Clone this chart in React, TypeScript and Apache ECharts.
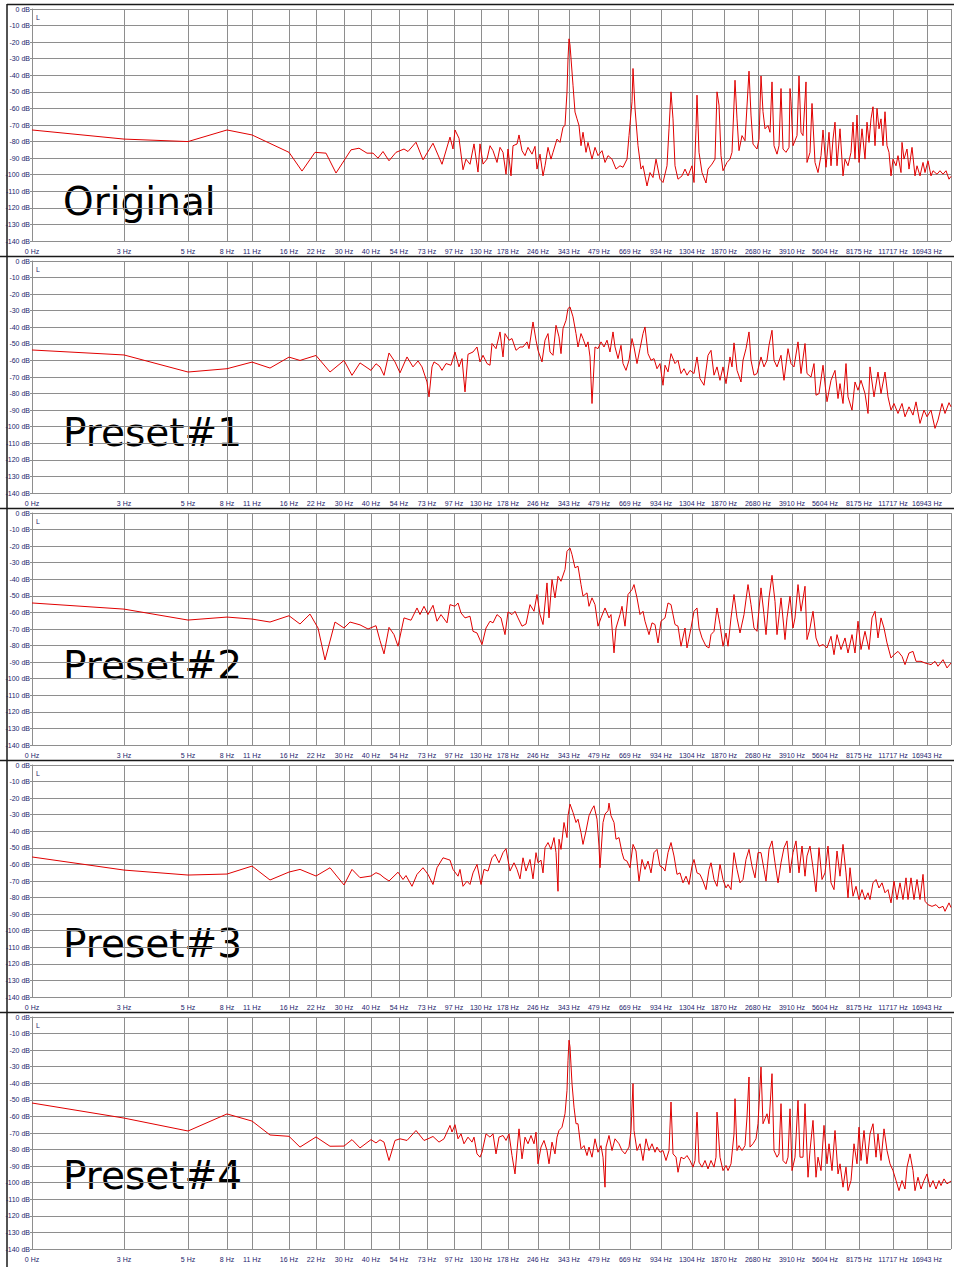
import React, { useEffect, useRef } from 'react';
import * as echarts from 'echarts';

// ---- axis definition (frequency bins along the display axis) ----
const binCount = 920;
const tickBins = [0, 92, 156, 195, 220, 257, 284, 312, 339, 367, 395, 422, 449, 476, 506, 537, 567, 598, 629, 660, 692, 726, 760, 793, 827, 861, 895, 919];
const tickLabels = ['0 Hz', '3 Hz', '5 Hz', '8 Hz', '11 Hz', '16 Hz', '22 Hz', '30 Hz', '40 Hz', '54 Hz', '73 Hz', '97 Hz', '130 Hz', '178 Hz', '246 Hz', '343 Hz', '479 Hz', '669 Hz', '934 Hz', '1304 Hz', '1870 Hz', '2680 Hz', '3910 Hz', '5604 Hz', '8175 Hz', '11717 Hz', '16943 Hz', ''];
const panelNames = ['Original', 'Preset#1', 'Preset#2', 'Preset#3', 'Preset#4'];

// ---- spectra: [bin, dB] ----
const original = [[0,-73],[92,-78.5],[156,-80],[195,-73],[220,-76],[257,-86.5],[270,-97.8],[283,-86.5],[294,-87],[304,-99],[319,-85],[327,-84],[335,-87],[341,-87],[346,-90],[351,-86],[357,-91.6],[364,-86.5],[372,-84.5],[376,-86],[384,-80.4],[391,-91],[401,-81],[410,-93.7],[418,-77.3],[421,-84.5],[423,-73],[427,-78],[431,-97],[434,-90.6],[438,-93.7],[442,-81.4],[446,-98.4],[448,-81.4],[451,-93.6],[455,-90.6],[458,-82.5],[461,-85.5],[465,-92.6],[468,-83.5],[471,-86.5],[474,-99.7],[476,-84.5],[479,-100.7],[481,-82.5],[485,-81.5],[487,-76],[490,-85.5],[493,-88.5],[496,-83.5],[500,-87.6],[503,-82.9],[505,-96.6],[508,-87.6],[511,-100.7],[513,-94.6],[516,-83.5],[519,-90.6],[521,-86.5],[525,-78.5],[528,-80.5],[531,-71.3],[533,-70.3],[535,-50],[536,-30],[537,-18],[538,-21.7],[539,-29.8],[541,-46],[543,-62.2],[545,-66.3],[547,-70.3],[549,-82.5],[551,-74.4],[554,-86.5],[556,-80.5],[560,-90.6],[563,-83.5],[566,-88.5],[570,-85.5],[573,-92.6],[576,-88.5],[580,-90.6],[584,-96.6],[588,-94.6],[591,-95.5],[595,-90.6],[597,-76.4],[600,-56],[601,-35.9],[603,-60],[606,-82.5],[609,-96.6],[611,-94.6],[615,-106.8],[618,-98.7],[621,-101.7],[624,-90.6],[628,-102.7],[631,-104.7],[635,-94.6],[637,-72.3],[639,-50],[641,-66.3],[643,-94.6],[646,-102.7],[650,-100.7],[653,-96.6],[656,-100.7],[660,-94.6],[662,-104.7],[664,-72.3],[665,-52],[667,-86.5],[670,-98.7],[674,-105],[676,-96.6],[680,-93.6],[683,-90.6],[685,-50],[687,-58],[689,-88.5],[691,-97.6],[695,-92.6],[698,-90.6],[700,-86.5],[703,-43],[705,-66.3],[707,-85.5],[710,-76.4],[713,-79.5],[717,-37.5],[719,-64],[721,-81.5],[725,-84.5],[727,-78.5],[729,-40.4],[731,-62],[733,-72.3],[736,-70.3],[738,-74.4],[740,-44],[742,-82.5],[745,-87.6],[747,-82.5],[749,-48],[751,-84.5],[754,-86.5],[757,-83.5],[758,-48],[759,-56],[761,-82.5],[765,-76.4],[767,-40.4],[769,-74.4],[771,-76.4],[774,-44],[775,-92.6],[778,-86.5],[780,-57],[783,-92.6],[786,-98.7],[789,-88.5],[791,-73],[794,-95.5],[797,-74.4],[799,-94.6],[801,-78.5],[803,-68.3],[805,-94.6],[808,-72.3],[811,-100.7],[813,-90.6],[816,-94.6],[819,-86.5],[821,-68.3],[823,-90.6],[825,-64],[827,-92.6],[830,-72.3],[833,-90.6],[835,-68.3],[837,-80.5],[839,-66.3],[841,-59],[843,-82.5],[845,-60],[847,-72.3],[849,-66.3],[851,-82.5],[853,-62],[855,-82.5],[857,-86.5],[859,-100.7],[861,-90.6],[864,-94.6],[866,-88.5],[869,-98.7],[870,-80.5],[872,-90.6],[875,-84.5],[877,-96.6],[880,-83.5],[883,-100.7],[885,-94.6],[888,-100.7],[891,-92.6],[893,-98.7],[896,-91.6],[899,-100.7],[901,-97.6],[905,-99.7],[908,-97.6],[911,-99.7],[914,-97.6],[917,-102.7],[919,-101]];

const preset1 = [[0,-53.7],[92,-56.7],[156,-67],[195,-65],[220,-61],[238,-64.6],[257,-58],[268,-60],[284,-57],[298,-67],[312,-60],[320,-69],[328,-61.5],[339,-66],[344,-62],[348,-63.9],[352,-69],[357,-55.5],[363,-60.9],[368,-67.5],[375,-57.9],[381,-63.9],[386,-60.3],[390,-63.9],[395,-73],[397,-82],[400,-63.9],[402,-60.9],[407,-62.9],[410,-66],[414,-61.9],[419,-62.9],[423,-54.9],[427,-63.9],[430,-58.9],[433,-79],[436,-56.3],[441,-54.9],[445,-51.9],[448,-60.9],[451,-56.9],[455,-61.9],[458,-62.9],[460,-49.8],[464,-52.9],[468,-42.8],[471,-57.9],[473,-43.8],[477,-47.8],[480,-46.8],[484,-53.9],[488,-51.9],[491,-51.9],[495,-48.8],[497,-52.9],[501,-36.8],[504,-47.8],[506,-53.9],[510,-60.9],[513,-47.8],[516,-43.8],[518,-54.9],[521,-56.9],[524,-38.8],[527,-45.8],[529,-55.9],[531,-40.8],[534,-35.8],[536,-28.7],[538,-27.7],[541,-33.7],[544,-43.8],[546,-51.9],[549,-43.8],[551,-46.8],[554,-51.9],[556,-48.8],[558,-57.9],[560,-86],[563,-51.9],[566,-52.9],[569,-48.8],[572,-51.9],[575,-47.8],[578,-54.9],[581,-42.8],[583,-51.9],[586,-58.9],[589,-50.9],[591,-61.9],[594,-66],[597,-59.9],[600,-46.8],[602,-51.9],[605,-61.9],[608,-52.9],[611,-43.8],[613,-39.8],[616,-55.9],[619,-59.9],[622,-58.9],[625,-65],[628,-61.9],[631,-75],[633,-62.9],[636,-66.9],[639,-55.9],[643,-61.9],[646,-59.9],[649,-67.9],[652,-65],[655,-68.9],[658,-66],[662,-67.9],[665,-57.9],[668,-71],[672,-75],[676,-56.9],[679,-53.9],[682,-68.9],[685,-63.9],[688,-72],[691,-63.9],[694,-74],[698,-57.9],[700,-63.9],[702,-49.4],[705,-66],[709,-73],[711,-59.9],[714,-52.9],[717,-42.8],[719,-59.9],[722,-68.9],[725,-67.9],[729,-57.9],[732,-63.9],[735,-59.9],[737,-50.9],[740,-41.8],[742,-59.9],[745,-63.9],[749,-56.9],[752,-72],[756,-52.9],[759,-61.9],[762,-63.9],[766,-48.8],[769,-67.9],[773,-49.8],[775,-67.9],[779,-70],[782,-61.9],[784,-81],[787,-80],[791,-62.9],[795,-84.9],[799,-72],[803,-66],[806,-83],[808,-74],[811,-86],[814,-61.9],[816,-82],[820,-90],[823,-73],[826,-78],[829,-72],[833,-80],[836,-92],[838,-63.9],[842,-82],[846,-67],[849,-80],[853,-67],[856,-82],[859,-90],[862,-86],[866,-92],[870,-86],[873,-94],[877,-88],[881,-93],[884,-85],[888,-98],[892,-90],[895,-94],[899,-90],[903,-101],[906,-96],[910,-86],[913,-92],[917,-85.5],[919,-88]];

const preset2 = [[0,-54.3],[92,-58],[156,-64.6],[195,-62.8],[220,-64],[238,-65.8],[257,-62],[268,-67],[278,-61],[286,-69.4],[293,-88.7],[303,-65.8],[312,-69.4],[318,-65.8],[328,-67.5],[336,-70],[344,-68],[348,-77],[352,-85],[357,-69],[362,-73.4],[366,-80.4],[372,-63.3],[379,-64.7],[385,-57.3],[388,-61.3],[392,-56.3],[396,-61.3],[401,-55.7],[405,-65.3],[409,-61.3],[415,-66.3],[418,-55.3],[423,-56.3],[426,-54.3],[429,-60.3],[433,-63.3],[438,-62.3],[441,-71.4],[445,-72.4],[450,-79.4],[454,-69.4],[458,-65.3],[461,-66.3],[465,-61.3],[469,-63.3],[473,-73.4],[476,-59.7],[480,-61.3],[483,-59.3],[486,-63.3],[490,-68.3],[494,-67],[498,-55.3],[502,-59.3],[505,-49.2],[508,-61.3],[511,-67.3],[515,-42.2],[517,-63.3],[520,-40.2],[523,-51.2],[526,-38.2],[529,-41.2],[533,-34.1],[535,-23.1],[538,-21.1],[540,-25.1],[543,-33.1],[546,-32.1],[549,-43.2],[551,-50.2],[555,-48.2],[557,-56.3],[560,-51.2],[563,-55.3],[566,-68.3],[569,-63.3],[573,-57.3],[577,-63.3],[579,-61.3],[582,-84.4],[584,-69.4],[588,-61.3],[590,-56.3],[593,-68.3],[596,-49.2],[600,-46.2],[602,-43.2],[605,-51.2],[608,-61.3],[611,-59.3],[613,-65.3],[617,-73.4],[620,-66.3],[623,-67.3],[626,-78.4],[629,-65.3],[633,-63.3],[636,-54.3],[639,-55.3],[643,-67.3],[646,-68.3],[649,-80.4],[653,-69.4],[655,-81.4],[659,-69.4],[662,-59.3],[665,-57.3],[667,-69.4],[670,-75.4],[674,-80.4],[677,-81.4],[679,-73.4],[682,-71.4],[685,-57.3],[688,-67.3],[691,-80.4],[694,-72.4],[696,-80.4],[699,-63.3],[702,-49.2],[705,-63.3],[708,-72.4],[712,-61.3],[716,-43.2],[719,-55.3],[722,-69.4],[725,-71.4],[729,-45.2],[732,-61.3],[734,-73.4],[737,-51.2],[740,-37.6],[743,-53.3],[745,-73.4],[749,-51.2],[753,-76.4],[755,-63.3],[758,-50.2],[761,-69.4],[763,-63.3],[766,-43.2],[769,-59.3],[773,-44.2],[775,-76.4],[778,-69.4],[781,-59.3],[784,-75.4],[787,-80.4],[791,-79.4],[795,-81.4],[799,-74.4],[802,-85.5],[805,-73.4],[809,-82.4],[813,-75.4],[816,-84.5],[820,-73.4],[823,-84.5],[826,-65.3],[829,-82.4],[833,-71.4],[837,-82.4],[840,-63.3],[843,-59.3],[846,-75.4],[849,-63.3],[852,-69.4],[855,-78.4],[859,-87.5],[862,-85.5],[866,-83.5],[870,-86.5],[873,-91.5],[877,-84.5],[881,-83.5],[884,-89.5],[889,-89.5],[893,-90.5],[899,-91.5],[903,-89.5],[906,-92.5],[911,-88.5],[915,-93.5],[919,-90.5]];

const preset3 = [[0,-55.5],[92,-63.4],[156,-66.4],[195,-65.8],[220,-61],[238,-69.4],[257,-64.6],[268,-63],[284,-67],[298,-62],[312,-72.4],[320,-63],[328,-68],[339,-67],[344,-65],[348,-66],[352,-68],[357,-70],[366,-64.7],[371,-69.1],[374,-66.7],[380,-73.2],[385,-66],[391,-62],[396,-66],[401,-72.1],[405,-62],[411,-56],[418,-57.4],[421,-63],[426,-67.1],[428,-63],[431,-73.2],[435,-70.1],[438,-72.1],[441,-65.1],[445,-60],[449,-72.1],[452,-63],[456,-64],[460,-56],[463,-53.9],[467,-59],[471,-52.9],[474,-50.5],[478,-64],[482,-59],[485,-63],[488,-68.7],[491,-56],[494,-64],[498,-57],[501,-68.7],[504,-52.9],[506,-59],[509,-57.4],[511,-65.1],[513,-49.9],[516,-46.8],[519,-50.9],[522,-43.8],[524,-52.9],[526,-76.2],[527,-44.8],[529,-50.9],[532,-34.7],[535,-43.8],[536,-30.6],[538,-23.6],[541,-28.6],[544,-34.7],[546,-32.7],[549,-40.8],[551,-47.9],[554,-39.8],[557,-30.6],[560,-26.6],[562,-24.6],[565,-32.7],[567,-48.9],[568,-62],[571,-34.7],[573,-29.6],[576,-27.6],[577,-23],[579,-30.6],[582,-34.7],[584,-44.8],[587,-43.8],[590,-52.9],[592,-57],[595,-58],[598,-62],[601,-47.9],[604,-51.9],[607,-70.1],[610,-57],[613,-63],[616,-58],[619,-65.1],[622,-52.9],[625,-50.9],[628,-61],[631,-62],[633,-64],[636,-52.9],[639,-46.8],[642,-54.9],[645,-66],[648,-65.1],[651,-71.1],[654,-67.1],[657,-72.1],[660,-61],[662,-57],[665,-65.1],[668,-66],[671,-70.1],[674,-75.2],[677,-63],[679,-59],[682,-69.1],[685,-73.2],[688,-60],[691,-69.1],[694,-74.2],[696,-72.1],[699,-75.2],[702,-52.9],[705,-63],[708,-71.1],[711,-69.1],[714,-57],[717,-50.9],[720,-61],[723,-68.1],[726,-52.9],[729,-52.9],[732,-63],[734,-70.1],[737,-50.9],[740,-45.8],[743,-59],[746,-71.1],[749,-59],[752,-49.9],[755,-45.8],[758,-65.1],[761,-52.9],[764,-45.8],[767,-65.1],[770,-48.9],[773,-67.1],[775,-54.9],[778,-48.9],[781,-62],[784,-76.5],[787,-49.9],[790,-69.1],[793,-65.1],[796,-48.9],[799,-71.1],[802,-75.2],[805,-51.9],[808,-67.1],[811,-47.9],[814,-65.1],[816,-80.2],[818,-62],[821,-79.2],[824,-73.2],[827,-81.2],[830,-75.2],[833,-81.2],[836,-77.1],[838,-81.2],[841,-71.1],[844,-69.1],[847,-74.2],[850,-71.1],[853,-77.1],[856,-75.2],[859,-83.2],[862,-70.1],[865,-81.2],[868,-71.1],[871,-81.2],[874,-68.1],[876,-81.2],[879,-68.1],[882,-81.2],[885,-69.1],[888,-81.2],[891,-66],[893,-82.2],[896,-84.3],[900,-85.3],[904,-84.3],[907,-86.3],[911,-85.3],[913,-88.3],[917,-83.2],[919,-86]];

const preset4 = [[0,-51.9],[92,-61],[156,-68.8],[195,-58.5],[220,-62.8],[238,-71.2],[257,-72],[268,-78.5],[284,-72.4],[298,-78],[312,-77.9],[320,-74],[328,-79],[339,-74],[344,-76],[348,-74.1],[352,-75.5],[357,-86.6],[363,-74.5],[368,-73.5],[375,-74.5],[384,-68.5],[392,-74.5],[396,-73.5],[401,-72.1],[407,-75.5],[412,-73.5],[418,-65.4],[420,-69.4],[423,-65],[426,-73.5],[429,-70.5],[432,-76.5],[436,-72.5],[440,-75.5],[442,-72.5],[445,-82.6],[448,-84.6],[450,-81.6],[454,-70.5],[458,-72.5],[461,-70.5],[464,-82.6],[467,-72.5],[471,-71.5],[474,-74.5],[477,-70.5],[480,-83.6],[483,-94.7],[485,-80.6],[487,-67.5],[490,-85.6],[493,-72.5],[496,-76.5],[499,-71.5],[502,-76.5],[504,-69.5],[506,-88.6],[509,-78.5],[512,-74.5],[515,-80.6],[517,-88.6],[520,-75.5],[523,-82.6],[525,-72.5],[527,-68.5],[530,-66.5],[533,-58.4],[535,-44.3],[536,-26.1],[537,-14],[538,-18],[540,-40.2],[542,-54.4],[544,-64.4],[546,-64.4],[549,-79.6],[552,-77.6],[555,-83.6],[557,-78.5],[560,-84.6],[563,-73.5],[566,-81.6],[569,-77.6],[571,-84.6],[573,-102.7],[574,-78.5],[577,-71.5],[580,-80.6],[583,-73.5],[587,-76.5],[590,-80.6],[593,-82.6],[597,-78.5],[599,-68.5],[601,-40.2],[602,-68.5],[605,-80.6],[608,-76.5],[611,-86.6],[614,-73.5],[617,-80.6],[620,-76.5],[623,-81.6],[625,-78.5],[628,-81.6],[631,-80.6],[634,-86.6],[637,-80.6],[639,-51.3],[641,-82.6],[644,-84.6],[646,-93.7],[649,-84.6],[652,-85.6],[655,-83.6],[658,-86.6],[661,-90.6],[663,-86.6],[665,-57.4],[667,-87.6],[670,-90.6],[673,-86.6],[676,-91.7],[679,-86.6],[682,-90.6],[684,-84.6],[685,-57.4],[688,-84.6],[691,-92.7],[694,-89.6],[696,-92.7],[699,-88.6],[702,-70.5],[703,-49.3],[705,-80.6],[707,-77.6],[710,-80.6],[713,-77.6],[715,-60.4],[717,-36.2],[718,-78.5],[721,-76.5],[724,-73.5],[726,-64.4],[729,-30.2],[731,-64.4],[733,-61.4],[735,-58.4],[737,-64.4],[740,-34.2],[742,-80.6],[745,-84.6],[747,-82.6],[749,-52.3],[751,-86.6],[754,-88.6],[756,-84.6],[758,-55.4],[760,-92.7],[763,-84.6],[766,-50.3],[768,-84.6],[771,-84.6],[773,-52.3],[776,-96.7],[778,-80.6],[781,-62.4],[784,-96.7],[786,-84.6],[789,-92.7],[792,-65.4],[795,-88.6],[797,-76.5],[800,-92.7],[803,-68.5],[806,-94.7],[808,-88.6],[811,-102.7],[814,-90.6],[816,-104.8],[819,-98.7],[822,-76.5],[825,-88.6],[827,-66.5],[829,-86.6],[832,-68.5],[835,-88.6],[838,-70.5],[841,-64.4],[844,-84.6],[846,-70.5],[849,-86.6],[852,-67.5],[855,-80.6],[858,-88.6],[861,-92.7],[864,-98.7],[867,-104.8],[870,-98.7],[873,-103.8],[875,-90.6],[878,-82.6],[881,-92.7],[883,-104.8],[886,-96.7],[889,-103.8],[892,-98.7],[895,-94.7],[898,-102.7],[901,-98.7],[904,-103.8],[907,-98.7],[909,-101.7],[912,-97.7],[915,-100.7],[919,-99]];

const spectra = [original, preset1, preset2, preset3, preset4];

// ---- layout ----
const W = 954;
const H = 1267;
const panelStep = 252;
const plotLeft = 32;
const plotTop = 9;
const plotHeight = 232;
const plotWidth = 919;
const titleMidY = [201.5, 432, 665, 943, 1175];
const gridColor = '#8e8e8e';
const labelColor = '#1c1c6c';
const lineColor = '#e00000';
const smallFont = '"Liberation Sans", Arial, sans-serif';

export default function App() {
  const ref = useRef<HTMLDivElement | null>(null);

  useEffect(() => {
    document.body.style.margin = '0';
    if (!ref.current) return;
    const chart = echarts.init(ref.current, undefined, { renderer: 'svg' });

    const tickSet = new Set(tickBins);
    const categories: string[] = [];
    for (let b = 0; b < binCount; b++) {
      const k = tickBins.indexOf(b);
      categories.push(k >= 0 ? tickLabels[k] : '');
    }
    const isTick = (idx: number) => tickSet.has(idx);

    const grids = spectra.map((_, i) => ({
      left: plotLeft,
      top: plotTop + panelStep * i,
      width: plotWidth,
      height: plotHeight,
      containLabel: false,
    }));

    const xAxes = spectra.map((_, i) => ({
      type: 'category',
      gridIndex: i,
      data: categories,
      boundaryGap: false,
      axisLine: { show: true, lineStyle: { color: gridColor, width: 1 } },
      axisTick: { show: true, interval: isTick, length: 4, lineStyle: { color: gridColor } },
      axisLabel: {
        interval: isTick,
        fontSize: 7,
        fontFamily: smallFont,
        color: labelColor,
        margin: 7,
      },
      splitLine: { show: true, interval: isTick, lineStyle: { color: gridColor, width: 1 } },
    }));

    const yAxes = spectra.map((_, i) => ({
      type: 'value',
      gridIndex: i,
      min: -140,
      max: 0,
      interval: 10,
      axisLine: { show: true, lineStyle: { color: gridColor, width: 1 } },
      axisTick: { show: true, length: 2, lineStyle: { color: gridColor } },
      axisLabel: {
        formatter: (v: number) => `${v} dB`,
        fontSize: 7,
        fontFamily: smallFont,
        color: labelColor,
        margin: 2,
      },
      splitLine: { show: true, lineStyle: { color: gridColor, width: 1 } },
    }));

    const series = spectra.map((d, i) => ({
      type: 'line',
      name: panelNames[i],
      xAxisIndex: i,
      yAxisIndex: i,
      data: d,
      showSymbol: false,
      symbol: 'none',
      silent: true,
      lineStyle: { color: lineColor, width: 1 },
    }));

    const graphic: any[] = [
      {
        type: 'line',
        shape: { x1: 7, y1: 4, x2: 7, y2: H },
        style: { stroke: '#1a1a1a', lineWidth: 1.5 },
        silent: true,
      },
    ];
    spectra.forEach((_, i) => {
      const top = 4.5 + panelStep * i;
      graphic.push({
        type: 'line',
        shape: { x1: i === 0 ? 7 : 0, y1: top, x2: W, y2: top },
        style: { stroke: '#1a1a1a', lineWidth: 1.5 },
        silent: true,
      });
      graphic.push({
        type: 'text',
        x: 36,
        y: 14 + panelStep * i,
        style: { text: 'L', font: `7px ${smallFont}`, fill: labelColor },
        silent: true,
      });
      graphic.push({
        type: 'text',
        x: 63,
        y: titleMidY[i],
        style: {
          text: panelNames[i],
          font: '39px "DejaVu Sans", sans-serif',
          fill: '#000',
          align: 'left',
          verticalAlign: 'middle',
          textAlign: 'left',
          textVerticalAlign: 'middle',
        },
        silent: true,
      });
    });

    chart.setOption({
      animation: false,
      backgroundColor: '#ffffff',
      grid: grids,
      xAxis: xAxes,
      yAxis: yAxes,
      series,
      graphic,
    } as any);

    return () => {
      chart.dispose();
    };
  }, []);

  return <div ref={ref} style={{ width: W, height: H, background: '#fff' }} />;
}
